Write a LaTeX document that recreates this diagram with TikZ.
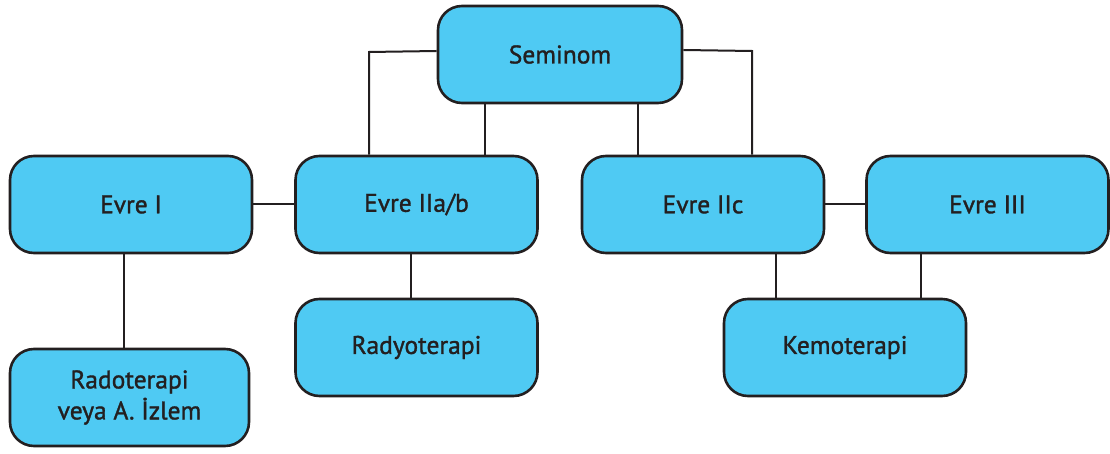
\documentclass[tikz,border=0pt]{standalone}
\usepackage{fontspec}
\setmainfont{PT Sans}[BoldFont=PT Sans,BoldFeatures={FakeBold=1.3}]
\definecolor{boxblue}{HTML}{4FCAF3}
\definecolor{ink}{HTML}{231F20}
\begin{document}
\begin{tikzpicture}[x=1pt,y=-1pt,
  box/.style={draw=ink,line width=2.6pt,fill=boxblue,rounded corners=24pt,
    minimum width=242pt,minimum height=97pt,inner sep=0pt,
    font=\fontsize{25.5}{31}\selectfont\bfseries,text=ink,align=center},
  link/.style={draw=ink,line width=2pt}]
\useasboundingbox (0,0) rectangle (1110,454);
\node[box,minimum width=244pt] (sem) at (560,54.5) {Seminom};
\node[box] (e1) at (131,204.5) {Evre I};
\node[box] (e2) at (416.5,204.5) {Evre IIa/b};
\node[box] (e3) at (703,204.5) {Evre IIc};
\node[box] (e4) at (987.5,204.5) {Evre III};
\node[box] (rad) at (416.5,347.5) {Radyoterapi};
\node[box] (kem) at (845,347.5) {Kemoterapi};
\node[box,minimum width=239pt] (riz) at (129.5,397.5) {Radoterapi\\veya A. İzlem};
\coordinate (cl) at (369,52);
\coordinate (cr) at (752,51);
\draw[link] (sem.west |- 0,51) -- (cl) -- (cl |- e2.north);
\draw[link] (sem.south -| 485,0) -- (e2.north -| 485,0);
\draw[link] (sem.south -| 638,0) -- (e3.north -| 638,0);
\draw[link] (sem.east |- 0,50) -- (cr) -- (cr |- e3.north);
\draw[link] (e1.east) -- (e2.west);
\draw[link] (e3.east) -- (e4.west);
\draw[link] (e1.south -| 124,0) -- (riz.north -| 124,0);
\draw[link] (e2.south -| 411,0) -- (rad.north -| 411,0);
\draw[link] (e3.south -| 776,0) -- (kem.north -| 776,0);
\draw[link] (e4.south -| 921,0) -- (kem.north -| 921,0);
\end{tikzpicture}
\end{document}
